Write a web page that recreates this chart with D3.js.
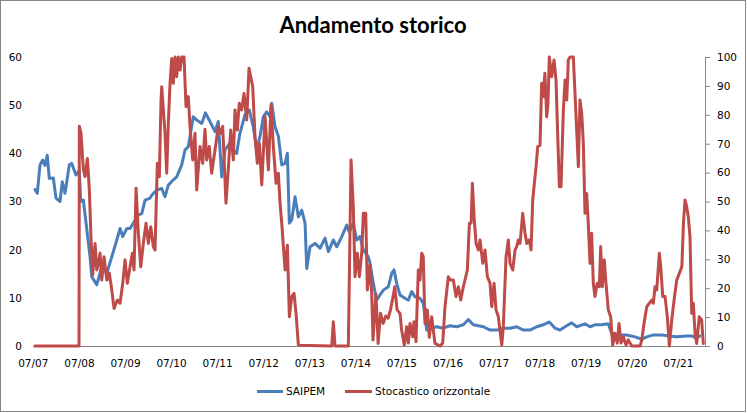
<!DOCTYPE html>
<html>
<head>
<meta charset="utf-8">
<script src="https://cdnjs.cloudflare.com/ajax/libs/d3/7.8.5/d3.min.js"></script>
<style>
  html, body { margin: 0; padding: 0; background: #fff; }
  svg { display: block; }
  .tick text { font-family: "DejaVu Sans", Verdana, sans-serif; font-size: 10.5px; fill: #000; }
</style>
</head>
<body>
<div id="chart"></div>
<script>
// ---- Data (dates as decimal years) ----
const title = "Andamento storico";
const seriesNames = ["SAIPEM", "Stocastico orizzontale"];
const seriesColors = ["#4A7EBB", "#BE4B48"];
const leftTicks = [0, 10, 20, 30, 40, 50, 60];
const rightTicks = [0, 10, 20, 30, 40, 50, 60, 70, 80, 90, 100];
const xTickYears = [2007, 2008, 2009, 2010, 2011, 2012, 2013, 2014, 2015, 2016, 2017, 2018, 2019, 2020, 2021];

const saipem = [
[2007.543,32.5],[2007.593,31.7],[2007.652,37.6],[2007.711,38.6],[2007.760,37.5],[2007.810,39.6],[2007.854,34.8],[2007.941,34.9],[2007.999,30.7],[2008.086,30.0],[2008.136,34.1],[2008.195,31.7],[2008.288,37.6],[2008.340,37.9],[2008.433,35.5],[2008.505,36.5],[2008.535,30.0],[2008.592,30.3],[2008.737,18.5],[2008.774,14.4],[2008.883,12.7],[2008.991,16.5],[2009.100,15.1],[2009.208,18.5],[2009.317,22.0],[2009.388,24.4],[2009.447,22.7],[2009.534,24.4],[2009.605,24.4],[2009.786,27.2],[2009.859,27.5],[2009.931,30.3],[2010.040,30.7],[2010.076,31.3],[2010.185,32.4],[2010.294,32.7],[2010.365,31.0],[2010.437,33.4],[2010.545,34.5],[2010.619,35.1],[2010.728,37.6],[2010.799,40.7],[2010.871,41.4],[2010.979,47.6],[2011.053,46.9],[2011.162,46.2],[2011.244,48.4],[2011.342,46.6],[2011.451,44.5],[2011.522,46.6],[2011.596,35.1],[2011.668,40.7],[2011.776,42.1],[2011.848,40.7],[2011.922,40.0],[2011.993,44.2],[2012.102,48.0],[2012.195,49.0],[2012.282,45.5],[2012.356,40.7],[2012.427,43.5],[2012.499,47.6],[2012.573,48.6],[2012.645,47.6],[2012.681,50.4],[2012.753,45.5],[2012.825,43.5],[2012.898,37.6],[2012.970,37.9],[2013.020,40.0],[2013.063,25.5],[2013.115,26.2],[2013.187,31.0],[2013.259,26.8],[2013.332,28.2],[2013.404,25.5],[2013.441,16.1],[2013.513,20.6],[2013.621,21.3],[2013.730,20.3],[2013.838,22.4],[2013.910,19.6],[2014.018,22.0],[2014.092,20.6],[2014.201,22.7],[2014.309,25.1],[2014.366,23.7],[2014.452,25.5],[2014.526,22.0],[2014.598,22.7],[2014.670,19.9],[2014.778,18.5],[2014.815,17.2],[2014.887,13.0],[2014.960,9.5],[2015.032,10.6],[2015.104,11.6],[2015.212,12.3],[2015.286,15.1],[2015.336,15.8],[2015.394,13.0],[2015.466,10.6],[2015.575,9.9],[2015.647,9.5],[2015.720,11.3],[2015.792,10.2],[2015.901,9.9],[2015.972,8.9],[2016.046,3.3],[2016.154,3.7],[2016.263,4.0],[2016.406,3.7],[2016.551,4.2],[2016.697,4.0],[2016.840,4.4],[2016.949,5.5],[2017.056,4.4],[2017.274,4.0],[2017.420,3.3],[2017.565,3.3],[2017.708,3.7],[2017.854,3.7],[2017.999,4.0],[2018.143,3.3],[2018.288,3.3],[2018.433,4.0],[2018.576,4.4],[2018.707,5.0],[2018.831,3.7],[2018.939,3.3],[2019.048,4.0],[2019.193,4.8],[2019.302,4.0],[2019.482,4.6],[2019.591,4.0],[2019.699,4.4],[2019.844,4.4],[2019.988,4.6],[2020.061,2.6],[2020.170,2.3],[2020.387,2.3],[2020.567,1.9],[2020.712,1.4],[2020.821,1.9],[2020.964,2.3],[2021.147,2.3],[2021.290,2.1],[2021.472,1.9],[2021.689,2.1],[2021.798,2.1],[2021.906,1.6],[2021.978,2.1]
];

const stocastico = [
[2007.543,0],[2008.498,0],[2008.505,76],[2008.542,73.6],[2008.592,61],[2008.629,58.6],[2008.679,64.9],[2008.722,54],[2008.759,36.7],[2008.796,24.6],[2008.846,35.5],[2008.883,26.3],[2008.917,28.6],[2008.954,32.1],[2008.991,22.8],[2009.041,30.9],[2009.100,22.8],[2009.156,25.2],[2009.208,19.4],[2009.258,13],[2009.330,15.9],[2009.388,14.8],[2009.447,21.7],[2009.497,29.8],[2009.547,21.7],[2009.605,27.4],[2009.655,32.1],[2009.692,26.3],[2009.736,54.6],[2009.786,39],[2009.838,27.4],[2009.894,35.5],[2009.953,42.5],[2010.003,35.5],[2010.055,41.3],[2010.111,34.4],[2010.148,33.2],[2010.198,63.2],[2010.242,58.6],[2010.278,85.1],[2010.294,89.7],[2010.365,73.6],[2010.402,59.8],[2010.437,77.1],[2010.474,90.9],[2010.511,99.5],[2010.545,90.9],[2010.582,100],[2010.619,93.2],[2010.654,100],[2010.691,95.5],[2010.728,100],[2010.778,100],[2010.821,82.8],[2010.871,86.3],[2010.908,75.9],[2010.967,64.4],[2011.016,73.6],[2011.053,54],[2011.125,69],[2011.184,63.2],[2011.233,75],[2011.270,64.4],[2011.326,69],[2011.378,59.8],[2011.451,67.8],[2011.522,75.9],[2011.574,73.6],[2011.618,76],[2011.689,49.4],[2011.739,60.9],[2011.791,74.7],[2011.848,64.4],[2011.885,81.7],[2011.935,74.7],[2011.978,84],[2012.030,81.7],[2012.080,87.4],[2012.139,78.2],[2012.189,96.1],[2012.226,93.2],[2012.269,89.7],[2012.319,72.4],[2012.369,63.2],[2012.413,70.1],[2012.465,55.7],[2012.537,79.3],[2012.608,60.9],[2012.666,83.4],[2012.716,69],[2012.775,56.3],[2012.825,59.8],[2012.861,49.4],[2012.898,42.5],[2012.970,26.3],[2013.020,34.9],[2013.063,10.1],[2013.115,17.1],[2013.165,18.2],[2013.208,11.3],[2013.259,0.3],[2013.984,0],[2014.018,8.4],[2014.055,0],[2014.344,0],[2014.403,64.4],[2014.452,48.2],[2014.489,24],[2014.539,32.1],[2014.583,24],[2014.635,32.1],[2014.670,45.9],[2014.722,45.9],[2014.757,19.4],[2014.815,28],[2014.852,18],[2014.880,2.1],[2014.944,18],[2014.991,0.9],[2015.043,11.3],[2015.100,7.8],[2015.158,10.4],[2015.208,9.6],[2015.260,12.5],[2015.316,17.1],[2015.353,20.5],[2015.403,12.5],[2015.466,11.3],[2015.502,5.5],[2015.560,0.3],[2015.612,6.7],[2015.647,1],[2015.684,7.8],[2015.742,3.2],[2015.770,8.4],[2015.814,1.5],[2015.864,26.3],[2015.901,22.8],[2015.938,32.1],[2015.972,30.9],[2016.009,7.8],[2016.059,12.5],[2016.103,3],[2016.154,10.1],[2016.226,0.9],[2016.335,0],[2016.393,1],[2016.443,13.6],[2016.515,24],[2016.551,22.8],[2016.623,22.8],[2016.682,17.1],[2016.732,20.5],[2016.784,15.9],[2016.840,20.5],[2016.927,26.3],[2016.971,42.5],[2017.008,42.5],[2017.036,56.3],[2017.073,44.7],[2017.116,35.5],[2017.166,33.2],[2017.203,36.7],[2017.261,28.6],[2017.311,33.2],[2017.361,24],[2017.420,21.7],[2017.457,13.6],[2017.507,21.7],[2017.550,12.5],[2017.600,10.1],[2017.674,0.3],[2017.708,6.7],[2017.767,30.9],[2017.817,36.7],[2017.854,28.6],[2017.913,26.3],[2017.962,33.2],[2017.999,34.4],[2018.034,36.7],[2018.071,35.5],[2018.129,45.9],[2018.180,39],[2018.217,35.5],[2018.273,36.7],[2018.310,33.2],[2018.347,50.5],[2018.382,56.3],[2018.419,62],[2018.455,69],[2018.505,69.5],[2018.541,90.9],[2018.576,86.3],[2018.611,94.4],[2018.650,79.3],[2018.678,84],[2018.707,100],[2018.759,93.2],[2018.810,99],[2018.853,92],[2018.881,77.1],[2018.925,55.1],[2018.962,55.1],[2019.012,81.7],[2019.049,92],[2019.085,85.1],[2019.120,99],[2019.157,100],[2019.229,100],[2019.288,79.3],[2019.338,62],[2019.373,85.1],[2019.411,80.5],[2019.446,70.1],[2019.482,45.9],[2019.519,52.8],[2019.553,42.5],[2019.591,28.6],[2019.627,39],[2019.662,21.7],[2019.699,17.1],[2019.749,21.7],[2019.793,20.5],[2019.823,34.4],[2019.858,20.5],[2019.901,29.8],[2019.938,21.7],[2019.988,12.5],[2020.040,10.1],[2020.083,0.3],[2020.133,4.4],[2020.183,1],[2020.220,7.8],[2020.264,1],[2020.314,3.2],[2020.372,0.3],[2020.422,2.1],[2020.496,0],[2020.676,0],[2020.712,2],[2020.762,7.8],[2020.821,13.6],[2020.878,14.8],[2020.930,15.9],[2020.964,14.8],[2021.001,20.5],[2021.038,19.4],[2021.094,32.1],[2021.125,27.4],[2021.168,17.1],[2021.218,17.1],[2021.268,10.1],[2021.312,0],[2021.364,9],[2021.414,15.9],[2021.472,22.8],[2021.529,25.2],[2021.583,27.4],[2021.618,42.5],[2021.652,50.5],[2021.689,48.2],[2021.724,44.7],[2021.760,37.8],[2021.798,11.3],[2021.833,14.8],[2021.869,4.4],[2021.906,0.9],[2021.961,10.1],[2022.013,9],[2022.049,0.9]
];

// ---- helpers ----
function decToDate(t) {
  const yr = Math.floor(t);
  const s = Date.UTC(yr, 0, 1), e = Date.UTC(yr + 1, 0, 1);
  return new Date(s + (t - yr) * (e - s));
}

const W = 747, H = 413;
const plot = { left: 33, right: 705, top: 57, bottom: 346 };

const svg = d3.select("#chart").append("svg").attr("width", W).attr("height", H);

// chart border
svg.append("rect").attr("x", 0.5).attr("y", 0.5).attr("width", W - 2).attr("height", H - 2)
  .attr("fill", "#fff").attr("stroke", "#868686").attr("stroke-width", 1);

const x = d3.scaleUtc().domain([decToDate(2007.5), decToDate(2022.086)]).range([plot.left, plot.right]);
const yL = d3.scaleLinear().domain([0, 60]).range([plot.bottom, plot.top]);
const yR = d3.scaleLinear().domain([0, 100]).range([plot.bottom, plot.top]);

// title
svg.append("text").attr("x", 373).attr("y", 33).attr("text-anchor", "middle")
  .attr("font-family", "Lato, 'Open Sans', sans-serif").attr("font-weight", "bold")
  .attr("font-size", 22).attr("fill", "#000").text(title);

// left axis (no line)
const gL = svg.append("g").attr("transform", `translate(${plot.left},0)`)
  .call(d3.axisLeft(yL).tickValues(leftTicks).tickSize(0).tickPadding(11));
gL.select(".domain").remove();

// right axis
const gR = svg.append("g").attr("transform", `translate(${plot.right},0)`)
  .call(d3.axisRight(yR).tickValues(rightTicks).tickSizeInner(5).tickSizeOuter(0).tickPadding(7));
gR.select(".domain").attr("stroke", "#868686");
gR.selectAll(".tick line").attr("stroke", "#868686");

// bottom axis
const xTicks = xTickYears.map(y => new Date(Date.UTC(y, 6, 1)));
const gB = svg.append("g").attr("transform", `translate(0,${plot.bottom})`)
  .call(d3.axisBottom(x).tickValues(xTicks).tickSize(0).tickPadding(14)
    .tickFormat(d3.utcFormat("%m/%y")));
gB.select(".domain").attr("stroke", "#868686").attr("d", `M${plot.left},0.5H${plot.right}`);

// lines
const lineL = d3.line().x(d => x(decToDate(d[0]))).y(d => yL(d[1]));
const lineR = d3.line().x(d => x(decToDate(d[0]))).y(d => yR(d[1]));

svg.append("path").datum(saipem).attr("d", lineL).attr("fill", "none")
  .attr("stroke", seriesColors[0]).attr("stroke-width", 3)
  .attr("stroke-linejoin", "round").attr("stroke-linecap", "round");
svg.append("path").datum(stocastico).attr("d", lineR).attr("fill", "none")
  .attr("stroke", seriesColors[1]).attr("stroke-width", 3)
  .attr("stroke-linejoin", "round").attr("stroke-linecap", "round");

// legend
const legend = svg.append("g").attr("font-family", "'DejaVu Sans', Verdana, sans-serif")
  .attr("font-size", 10.5);
const legItems = [{ x0: 257, x1: 283, tx: 286 }, { x0: 345, x1: 372, tx: 375 }];
legItems.forEach((it, i) => {
  legend.append("line").attr("x1", it.x0).attr("x2", it.x1).attr("y1", 391.5).attr("y2", 391.5)
    .attr("stroke", seriesColors[i]).attr("stroke-width", 3);
  legend.append("text").attr("x", it.tx).attr("y", 391.5).attr("dy", "0.35em")
    .attr("fill", "#000").text(seriesNames[i]);
});
</script>
</body>
</html>
